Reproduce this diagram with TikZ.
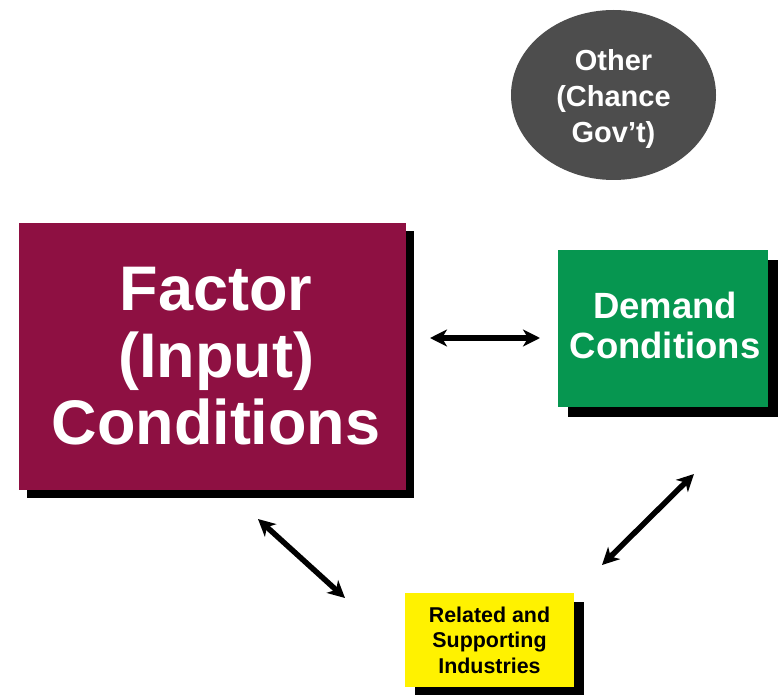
\documentclass[tikz,border=0pt]{standalone}
\usepackage{fontspec}
\setmainfont{Liberation Sans}
\usetikzlibrary{shapes.geometric,shadows,arrows.meta}
\definecolor{factorred}{HTML}{8E1042}
\definecolor{demandgreen}{HTML}{069650}
\definecolor{othergrey}{HTML}{4D4D4D}
\tikzset{
  box/.style={rectangle,inner sep=0pt,align=center,text=white},
  link/.style={line width=5.5pt,{Stealth[length=17pt,width=17pt,inset=5pt]}-{Stealth[length=17pt,width=17pt,inset=5pt]}}
}
\begin{document}
\begin{tikzpicture}[x=1pt,y=-1pt]
  \useasboundingbox[fill=white] (0,0) rectangle (781,695);
  \node[box,fill=factorred,minimum width=387pt,minimum height=267pt,
        drop shadow={shadow xshift=8pt,shadow yshift=-8pt,fill=black,opacity=1}] (factor) at (212.5,356.5) {};
  \node[align=center,text=white,inner sep=0pt,font=\fontsize{63}{67}\selectfont\bfseries] (factortext) at (216,356.5) {Factor\\(Input)\\Conditions};
  \node[box,fill=demandgreen,minimum width=210pt,minimum height=157pt,
        drop shadow={shadow xshift=10pt,shadow yshift=-10pt,fill=black,opacity=1}] (demand) at (663,328.5) {};
  \node[align=center,text=white,inner sep=0pt,font=\fontsize{36.5}{40}\selectfont\bfseries] (demandtext) at (665,325) {Demand\\Conditions};
  \node[box,fill=yellow,text=black,minimum width=169pt,minimum height=94pt,
        drop shadow={shadow xshift=10pt,shadow yshift=-9pt,fill=black,opacity=1},
        font=\fontsize{21.4}{25.5}\selectfont\bfseries] (related) at (489.5,640) {Related and\\Supporting\\Industries};
  \node[ellipse,fill=othergrey,inner sep=0pt,minimum width=205pt,minimum height=170pt] (other) at (613.5,95) {};
  \node[align=center,text=white,inner sep=0pt,font=\fontsize{29}{36}\selectfont\bfseries] (othertext) at (613.5,99) {Other\\(Chance\\Gov't)};
  % double arrows between the boxes
  \coordinate (fd1) at (430,338);
  \coordinate (fd2) at (540,338);
  \coordinate (fr1) at (258,519);
  \coordinate (fr2) at (345,598);
  \coordinate (dr1) at (694,474);
  \coordinate (dr2) at (602,565);
  \draw[link] (fd1) -- (fd2);
  \draw[link] (fr1) -- (fr2);
  \draw[link] (dr1) -- (dr2);
\end{tikzpicture}
\end{document}
